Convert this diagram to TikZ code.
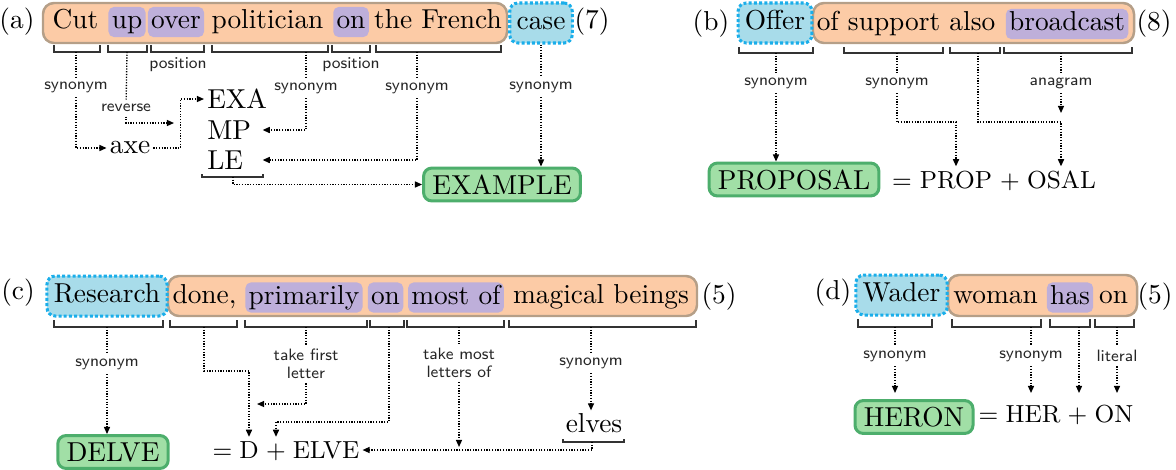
\documentclass[tikz,border=0pt]{standalone}
\usepackage[x11names, rgb]{xcolor}
\usepackage{tikz}
\usetikzlibrary{arrows.meta,calc}
\definecolor{cluefill}{HTML}{FCCBA6}
\definecolor{clueline}{HTML}{B59F88}
\definecolor{indfill}{HTML}{BEAFDA}
\definecolor{deffill}{HTML}{A8DCEA}
\definecolor{defline}{HTML}{1AAEEA}
\definecolor{ansfill}{HTML}{A1DFA6}
\definecolor{ansline}{HTML}{4DAE6C}

\begin{document}
\begin{tikzpicture}[x=0.365pt,y=-0.365pt]
\tikzset{
	clue box/.style = {draw=clueline, fill=cluefill, rounded corners=4pt, line width=0.9pt},
	word/.style = {inner sep=1pt, text height=7pt, text depth=2pt},
	indicator/.style = {word, fill=indfill, rounded corners=2pt, inner xsep=1.2pt},
	def box/.style = {word, draw=defline, fill=deffill, line width=1.1pt, dash pattern=on 1.1pt off 0.8pt, rounded corners=3pt, inner xsep=2.5pt, inner ysep=2.8pt},
	answer box/.style = {draw=ansline, fill=ansfill, line width=1.1pt, rounded corners=3pt, inner xsep=3.2pt, inner ysep=2.5pt, text height=7pt, text depth=0pt},
	piece/.style = {inner xsep=1pt, inner ysep=1.5pt, text height=6.8pt, text depth=0pt},
	eqn/.style = {font=\fontsize{9}{11}\selectfont, inner xsep=1pt, inner ysep=1.5pt, text height=6.2pt, text depth=0pt},
	rule/.style = {font=\fontsize{6}{6.4}\selectfont\sffamily, text=black!85, inner sep=1.5pt, align=center},
	bracket/.style = {draw=black!80, line width=0.6pt},
	link/.style = {dash pattern=on 0.45pt off 0.55pt, line width=0.5pt},
	link arrow/.style = {link, -{Triangle[length=2.6pt,width=2.2pt]}}
}
\useasboundingbox (0,0) rectangle (1176,469);

% (a)
\node[word] (a) at (17,22) {(a)};
\draw[clue box] (43,3) rectangle (507,43);
\node[word] (a1) at (75.5,22) {Cut};
\node[indicator] (a2) at (127,22) {up};
\node[indicator] (a3) at (176,22) {over};
\node[word] (a4) at (267.5,22) {politician};
\node[indicator] (a5) at (351,22) {on};
\node[word] (a6) at (438,22) {the French};
\node[def box] (a7) at (541,23) {case};
\node[word] (a8) at (592,22) {(7)};
\foreach \xa/\xb/\xm/\nm in {54/100/76/ba1, 108/147/127/ba2, 151/204/178/ba3, 212/328/306/ba4, 332/370/351/ba5, 376/501/417/ba6}{
	\draw[bracket] (\xa,45) |- (\xb,52) -- (\xb,45);
	\coordinate (\nm) at (\xm,52);
}
\node[rule] (ra1) at (76,87) {synonym};
\node[rule] (ra2) at (126,108) {reverse};
\node[rule] (ra3) at (178,65) {position};
\node[rule] (ra4) at (306,88) {synonym};
\node[rule] (ra5) at (351,65) {position};
\node[rule] (ra6) at (417,88) {synonym};
\node[rule] (ra7) at (541,87) {synonym};
\node[piece, text height=4.3pt] (axe) at (130,148) {axe};
\node[piece, anchor=west, text width=19pt, align=left] (exa) at (204,99) {EXA};
\node[piece, anchor=west, text width=19pt, align=left] (mp) at (204,130) {MP};
\node[piece, anchor=west, text width=19pt, align=left] (le) at (204,160) {LE};
\node[answer box] (ansA) at (502,184.5) {EXAMPLE};
\coordinate (rv) at (174,123);
\draw[bracket] (202,174) |- (263,177) -- (263,174);
\coordinate (leb) at (233,177);
\draw[link] (ba1) -- (ra1);
\draw[link arrow] (ra1) |- (axe);
\draw[link] (ba2) -- (ra2);
\draw[link arrow] (ra2) |- (rv);
\draw[link arrow] (axe.east) -- ++(27,0) |- (exa);
\draw[link] (ba4) -- (ra4);
\draw[link arrow] (ra4) |- (mp);
\draw[link] (ba6) -- (ra6);
\draw[link arrow] (ra6) |- (le);
\draw[link arrow] (leb) |- (ansA);
\draw[link] (a7) -- (ra7);
\draw[link arrow] (ra7) -- (ra7 |- ansA.north);

% (b)
\node[word] (b) at (711,24) {(b)};
\draw[clue box] (813,3) rectangle (1134,43);
\node[def box] (b1) at (775,23) {Offer};
\node[word] (b2) at (906,24) {of support also};
\node[indicator] (b3) at (1067,24) {broadcast};
\node[word] (b4) at (1154,24) {(8)};
\foreach \xa/\xb/\xm/\nm in {739/813/776/bb1, 844/943/897/bb2, 950/1000/978/bb3, 1004/1132/1061/bb4}{
	\draw[bracket] (\xa,47) |- (\xb,53) -- (\xb,47);
	\coordinate (\nm) at (\xm,53);
}
\node[rule] (rb1) at (776,83) {synonym};
\node[rule] (rb2) at (897,83) {synonym};
\node[rule] (rb3) at (1061,83) {anagram};
\node[answer box] (ansB) at (794,179.5) {PROPOSAL};
\node[eqn] (eb1) at (902,179.5) {$=$};
\node[eqn] (eb2) at (956,179.5) {PROP};
\node[eqn] (eb3) at (1010,179.5) {$+$};
\node[eqn] (eb4) at (1061.5,179.5) {OSAL};
\draw[link] (bb1) -- (rb1);
\draw[link arrow] (rb1) -- (rb1 |- ansB.north);
\draw[link] (bb2) -- (rb2);
\draw[link arrow] (rb2) -- (rb2 |- 0,122) -| (eb2.north);
\draw[link arrow] (bb3) |- (rb3 |- 0,122) -- (rb3 |- eb4.north);
\draw[link] (bb4) -- (rb3);
\draw[link arrow] (rb3) -- (rb3 |- 0,113);

% (c)
\node[word] (c) at (18,293) {(c)};
\draw[clue box] (168,276) rectangle (697,316);
\node[def box] (c1) at (107,296) {Research};
\node[word] (c2) at (204.5,297) {done,};
\node[indicator] (c3) at (304,297.5) {primarily};
\node[indicator] (c4) at (385.5,297.5) {on};
\node[indicator] (c5) at (456,297.5) {most of};
\node[word] (c6) at (601,297) {magical beings};
\node[word] (c7) at (719,297) {(5)};
\foreach \xa/\xb/\xm/\nm in {54/163/107/bc1, 170/237/204/bc2, 245/367/306/bc3, 370/404/389/bc4, 407/504/459/bc5, 509/696/591/bc6}{
	\draw[bracket] (\xa,320) |- (\xb,327) -- (\xb,320);
	\coordinate (\nm) at (\xm,327);
}
\node[rule] (rc1) at (107,364) {synonym};
\node[rule] (rc2) at (306,364) {take first\\letter};
\node[rule] (rc3) at (459,363) {take most\\letters of};
\node[rule] (rc4) at (591,363) {synonym};
\node[word] (elv) at (594,426) {elves};
\draw[bracket] (563,439) |- (624,442) -- (624,439);
\coordinate (elb) at (592,442);
\coordinate (dIn) at (257,404);
\node[answer box] (ansC) at (113,452) {DELVE};
\node[eqn] (ec1) at (222.5,450) {$=$};
\node[eqn] (ec2) at (249,450) {D};
\node[eqn] (ec3) at (276,450) {$+$};
\node[eqn] (ec4) at (326,450) {ELVE};
\draw[link] (bc1) -- (rc1);
\draw[link arrow] (rc1) -- (rc1 |- ansC.north);
\draw[link arrow] (bc2) |- (ec2.north |- 0,371) -- (ec2.north);
\draw[link] (bc3) -- (rc2);
\draw[link arrow] (rc2) |- (dIn);
\draw[link arrow] (bc4) |- (ec3.north |- 0,422) -- (ec3.north);
\draw[link] (bc5) -- (rc3);
\draw[link arrow] (rc3) -- (rc3 |- 0,447);
\draw[link] (bc6) -- (rc4);
\draw[link arrow] (rc4) -- (rc4 |- elv.north);
\draw[link arrow] (elb) |- (ec4);

% (d)
\node[word] (d) at (833,293) {(d)};
\draw[clue box] (948,275) rectangle (1137,316);
\node[def box] (d1) at (901.5,295) {Wader};
\node[word] (d2) at (995.5,297) {woman};
\node[indicator] (d3) at (1070,297.5) {has};
\node[word] (d4) at (1113.5,297) {on};
\node[word] (d5) at (1155,297) {(5)};
\foreach \xa/\xb/\xm/\nm in {858/932/895/bd1, 952/1041/1031/bd2, 1050/1090/1079/bd3, 1095/1134/1117/bd4}{
	\draw[bracket] (\xa,319) |- (\xb,327) -- (\xb,319);
	\coordinate (\nm) at (\xm,327);
}
\node[rule] (rd1) at (895,356) {synonym};
\node[rule] (rd2) at (1031,356) {synonym};
\node[rule] (rd3) at (1117,356) {literal};
\node[answer box] (ansD) at (914,417) {HERON};
\node[eqn] (ed1) at (988.5,414) {$=$};
\node[eqn] (ed2) at (1033,414) {HER};
\node[eqn] (ed3) at (1077.5,414) {$+$};
\node[eqn] (ed4) at (1114,414) {ON};
\draw[link] (bd1) -- (rd1);
\draw[link arrow] (rd1) -- (rd1 |- 0,393);
\draw[link] (bd2) -- (rd2);
\draw[link arrow] (rd2) -- (rd2 |- 0,393);
\draw[link arrow] (bd3) -- (bd3 |- 0,393);
\draw[link] (bd4) -- (rd3);
\draw[link arrow] (rd3) -- (rd3 |- 0,393);
\end{tikzpicture}
\end{document}
